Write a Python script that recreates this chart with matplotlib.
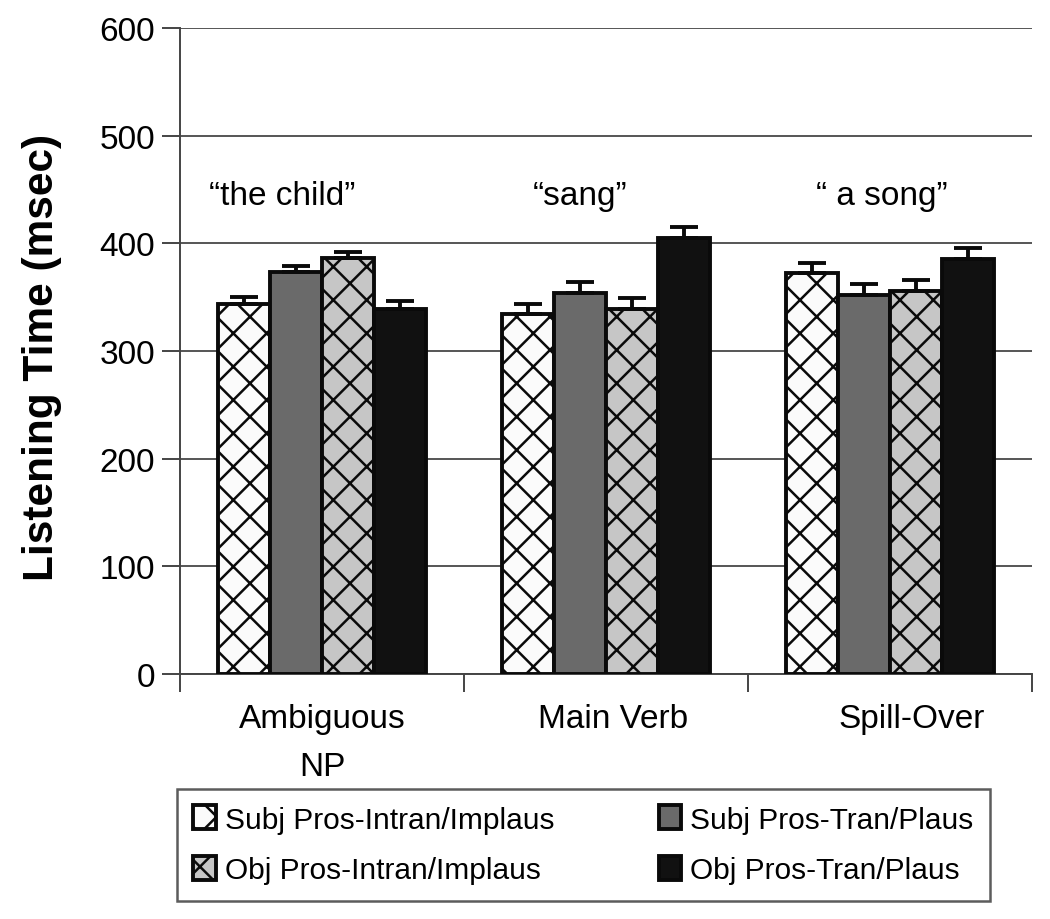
import matplotlib
matplotlib.use("Agg")
import matplotlib.pyplot as plt
from matplotlib import font_manager
import numpy as np

categories = ["Ambiguous\nNP", "Main Verb", "Spill-Over"]
phrases = ["\u201cthe child\u201d", "\u201csang\u201d", "\u201c a song\u201d"]
series_names = ["Subj Pros-Intran/Implaus", "Subj Pros-Tran/Plaus",
                "Obj Pros-Intran/Implaus", "Obj Pros-Tran/Plaus"]
subj_intran = [344, 334, 372]
subj_tran = [373, 354, 352]
obj_intran = [386, 339, 356]
obj_tran = [339, 405, 385]
subj_intran_err = [6, 10, 10]
subj_tran_err = [6, 10, 10]
obj_intran_err = [6, 10, 10]
obj_tran_err = [7, 10, 11]
yticks = [0, 100, 200, 300, 400, 500, 600]

values = [subj_intran, subj_tran, obj_intran, obj_tran]
errors = [subj_intran_err, subj_tran_err, obj_intran_err, obj_tran_err]
facecolors = ["#fbfbfb", "#6a6a6a", "#c6c6c6", "#111111"]
hatches = ["x", None, "x", None]

plt.rcParams['font.family'] = ['Liberation Sans', 'DejaVu Sans']
plt.rcParams['hatch.linewidth'] = 1.8

legend_prop = font_manager.FontProperties(family=["Liberation Sans", "DejaVu Sans"], size=21.5)

fig = plt.figure(figsize=(10.5, 9.2), dpi=100)
ax = fig.add_axes([0.1714, 0.2663, 0.8115, 0.7022])

x = np.arange(len(categories))
w = 0.183
handles = []
for i, (vals, errs) in enumerate(zip(values, errors)):
    pos = x + (i - 1.5) * w
    b = ax.bar(pos, vals, width=w, color=facecolors[i], edgecolor="#0a0a0a",
               linewidth=2.8, hatch=hatches[i], zorder=3, label=series_names[i])
    ax.errorbar(pos, vals, yerr=[np.zeros(len(errs)), errs], fmt="none",
                ecolor="#0a0a0a", elinewidth=2.8, capsize=10, capthick=2.8, zorder=4)
    handles.append(b)

ax.set_xlim(-0.5, 2.5)
ax.set_ylim(0, 600)
ax.set_yticks(yticks)
ax.yaxis.grid(True, color="#555555", linewidth=1.4, zorder=0)
ax.set_axisbelow(True)
for s in ["top", "right"]:
    ax.spines[s].set_visible(False)
ax.spines["left"].set_color("#444444")
ax.spines["left"].set_linewidth(1.4)
ax.spines["bottom"].set_color("#444444")
ax.spines["bottom"].set_linewidth(1.4)

ax.set_xticks([-0.5, 0.5, 1.5, 2.5])
ax.set_xticklabels([])
ax.tick_params(axis="x", length=13, width=1.4, color="#444444")
ax.tick_params(axis="y", length=13, width=1.4, color="#444444", labelsize=24, pad=5)

cat_offsets = [0.0, 0.025, 0.075]
for xi, cat, off in zip(x, categories, cat_offsets):
    ax.text(xi + off, -27, cat, ha="center", va="top", fontsize=24, linespacing=1.7)

phrase_offsets = [-0.14, -0.09, -0.03]
for xi, ph, off in zip(x, phrases, phrase_offsets):
    ax.text(xi + off, 444, ph, ha="center", va="center", fontsize=24)

ax.set_ylabel("Listening Time (msec)", fontsize=30.5, fontweight="bold")
ax.yaxis.set_label_coords(-0.1385, 0.492)

order = [0, 2, 1, 3]
leg = fig.legend([handles[k] for k in order], [series_names[k] for k in order],
                 ncol=2, loc="upper left",
                 bbox_to_anchor=(0.1686, 0.1413, 0.7743, 0.0), mode="expand",
                 borderaxespad=0, frameon=True, fancybox=False,
                 prop=legend_prop,
                 handlelength=0.75, handleheight=0.85, handletextpad=0.3,
                 columnspacing=1.5, labelspacing=0.75, borderpad=0.55)
leg.get_frame().set_edgecolor("#333333")
leg.get_frame().set_linewidth(1.8)

fig.savefig("out.png", dpi=100)
